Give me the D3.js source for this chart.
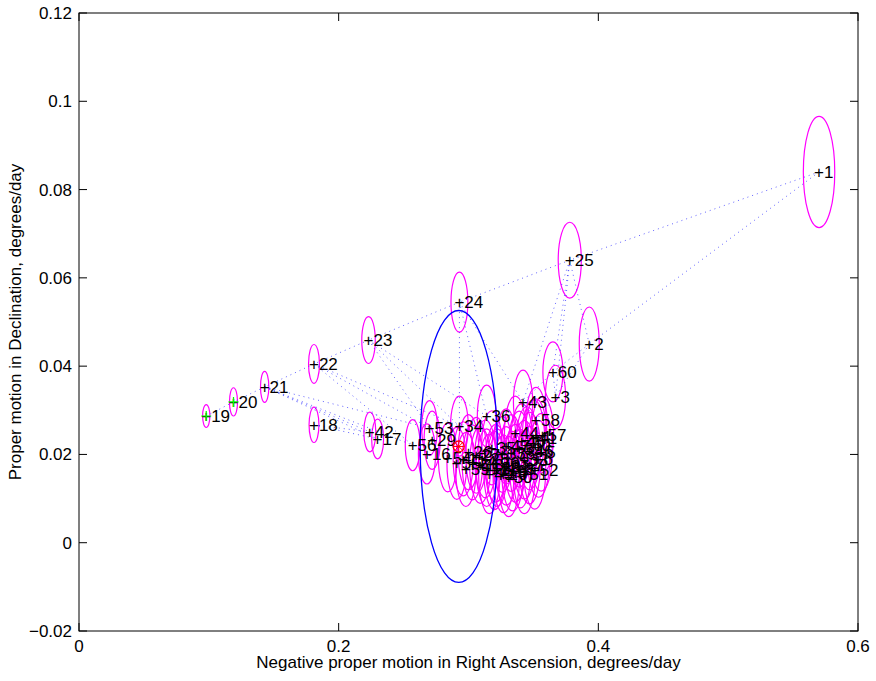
<!DOCTYPE html>
<html>
<head>
<meta charset="utf-8">
<script src="https://cdn.jsdelivr.net/npm/d3@7"></script>
<style>
  html, body { margin: 0; padding: 0; background: #fff; }
  text { font-family: "Liberation Sans", Arial, Helvetica, sans-serif; }
</style>
</head>
<body>
<div id="chart"></div>
<script>
// Observation ids, proper motions and error-ellipse half axes (degrees/day)
const ids = [1, 2, 3, 4, 5, 6, 7, 8, 9, 10, 11, 12, 13, 14, 15, 16, 17, 18, 19, 20,
  21, 22, 23, 24, 25, 26, 27, 28, 29, 30, 31, 32, 33, 34, 35, 36, 37, 38, 39, 40,
  41, 42, 43, 44, 45, 46, 47, 48, 49, 50, 51, 52, 53, 54, 55, 56, 57, 58, 59, 60];
const raMotion = [0.570, 0.393, 0.367, 0.352, 0.356, 0.354, 0.347, 0.340, 0.334, 0.327,
  0.320, 0.314, 0.309, 0.303, 0.296, 0.268, 0.230, 0.181, 0.098, 0.119,
  0.143, 0.181, 0.223, 0.293, 0.378, 0.300, 0.306, 0.313, 0.272, 0.321,
  0.329, 0.336, 0.343, 0.293, 0.318, 0.314, 0.326, 0.333, 0.339, 0.345,
  0.350, 0.224, 0.342, 0.336, 0.341, 0.347, 0.329, 0.322, 0.316, 0.331,
  0.343, 0.351, 0.270, 0.284, 0.291, 0.257, 0.357, 0.352, 0.298, 0.365];
const decMotion = [0.0840, 0.0450, 0.0330, 0.0240, 0.0205, 0.0190, 0.0176, 0.0168, 0.0162, 0.0156,
  0.0164, 0.0170, 0.0176, 0.0182, 0.0190, 0.0201, 0.0235, 0.0267, 0.0287, 0.0319,
  0.0353, 0.0405, 0.0459, 0.0545, 0.0640, 0.0205, 0.0198, 0.0190, 0.0232, 0.0180,
  0.0174, 0.0180, 0.0188, 0.0264, 0.0215, 0.0287, 0.0200, 0.0203, 0.0212, 0.0222,
  0.0238, 0.0251, 0.0319, 0.0248, 0.0230, 0.0208, 0.0218, 0.0170, 0.0156, 0.0150,
  0.0156, 0.0165, 0.0260, 0.0193, 0.0180, 0.0221, 0.0245, 0.0278, 0.0166, 0.0387];
const errRa = [0.0121, 0.0077, 0.0078, 0.0084, 0.0086, 0.0085, 0.0083, 0.0082, 0.0084, 0.0081,
  0.0082, 0.0080, 0.0081, 0.0079, 0.0078, 0.0066, 0.0046, 0.0038, 0.0028, 0.0031,
  0.0032, 0.0042, 0.0052, 0.0065, 0.0089, 0.0080, 0.0081, 0.0082, 0.0062, 0.0083,
  0.0084, 0.0082, 0.0085, 0.0068, 0.0080, 0.0072, 0.0082, 0.0083, 0.0084, 0.0085,
  0.0086, 0.0046, 0.0074, 0.0083, 0.0084, 0.0085, 0.0081, 0.0080, 0.0082, 0.0083,
  0.0084, 0.0085, 0.0060, 0.0072, 0.0076, 0.0057, 0.0086, 0.0078, 0.0078, 0.0077];
const errDec = [0.0126, 0.0084, 0.0072, 0.0086, 0.0088, 0.0087, 0.0088, 0.0089, 0.0090, 0.0088,
  0.0089, 0.0088, 0.0087, 0.0085, 0.0084, 0.0068, 0.0045, 0.0040, 0.0026, 0.0032,
  0.0035, 0.0044, 0.0053, 0.0068, 0.0086, 0.0085, 0.0086, 0.0088, 0.0066, 0.0088,
  0.0089, 0.0088, 0.0089, 0.0068, 0.0084, 0.0070, 0.0086, 0.0087, 0.0086, 0.0086,
  0.0086, 0.0045, 0.0072, 0.0084, 0.0085, 0.0088, 0.0085, 0.0088, 0.0090, 0.0091,
  0.0090, 0.0089, 0.0062, 0.0078, 0.0082, 0.0058, 0.0086, 0.0074, 0.0084, 0.0068];

// Dotted connections between observations (pairs of ids)
const links = [[1, 25], [1, 2], [25, 24], [25, 2], [25, 43], [25, 60], [25, 3],
  [2, 60], [2, 3], [24, 23], [24, 36], [24, 43], [24, 34],
  [23, 22], [23, 34], [23, 36], [23, 53], [22, 21], [22, 53], [22, 34], [22, 56],
  [21, 20], [20, 19], [21, 42], [21, 17], [21, 56], [21, 53], [18, 42], [18, 17],
  [60, 3], [60, 43], [43, 58], [36, 34], [3, 58]];

// Mean motion and its spread (blue ellipse), green highlighted ids
const meanMotion = [0.2925, 0.0218];
const meanSpread = [0.0297, 0.0308];
const highlighted = [19, 20];

const xTicks = [0, 0.2, 0.4, 0.6];
const xTickLabels = ['0', '0.2', '0.4', '0.6'];
const yTicks = [-0.02, 0, 0.02, 0.04, 0.06, 0.08, 0.1, 0.12];
const yTickLabels = ['\u22120.02', '0', '0.02', '0.04', '0.06', '0.08', '0.1', '0.12'];

(function() {
    const container = document.getElementById('chart');
    const width = 876, height = 681;
    const margin = { top: 13, right: 18, bottom: 50, left: 79 };
    const innerW = width - margin.left - margin.right;
    const innerH = height - margin.top - margin.bottom;
    const fs = '17px';

    const svg = d3.select(container).append('svg')
        .attr('width', width)
        .attr('height', height);

    const g = svg.append('g')
        .attr('transform', `translate(${margin.left},${margin.top})`);

    const x = d3.scaleLinear().domain([0, 0.6]).range([0, innerW]);
    const y = d3.scaleLinear().domain([-0.02, 0.12]).range([innerH, 0]);

    const points = ids.map((id, i) => ({
        id: id, ra: raMotion[i], dec: decMotion[i], eRa: errRa[i], eDec: errDec[i]
    }));
    const byId = new Map(points.map(p => [p.id, p]));

    const plot = g.append('g');

    // Error ellipses
    plot.selectAll('.err')
        .data(points)
        .enter()
        .append('ellipse')
        .attr('cx', d => x(d.ra))
        .attr('cy', d => y(d.dec))
        .attr('rx', d => x(d.eRa) - x(0))
        .attr('ry', d => y(0) - y(d.eDec))
        .attr('fill', 'none')
        .attr('stroke', '#ff00ff')
        .attr('stroke-width', 1.2);

    // Dotted links
    plot.selectAll('.link')
        .data(links)
        .enter()
        .append('line')
        .attr('x1', d => x(byId.get(d[0]).ra))
        .attr('y1', d => y(byId.get(d[0]).dec))
        .attr('x2', d => x(byId.get(d[1]).ra))
        .attr('y2', d => y(byId.get(d[1]).dec))
        .attr('stroke', '#3030ff')
        .attr('stroke-width', 1)
        .attr('stroke-dasharray', '1,4')
        .attr('opacity', 0.75);

    // Spread ellipse
    plot.append('ellipse')
        .attr('cx', x(meanMotion[0]))
        .attr('cy', y(meanMotion[1]))
        .attr('rx', x(meanSpread[0]) - x(0))
        .attr('ry', y(0) - y(meanSpread[1]))
        .attr('fill', 'none')
        .attr('stroke', '#0000ff')
        .attr('stroke-width', 1.3);

    // Labels "+N"
    plot.selectAll('.lbl')
        .data(points)
        .enter()
        .append('text')
        .attr('x', d => x(d.ra) - 5)
        .attr('y', d => y(d.dec) + 6)
        .attr('font-size', fs)
        .attr('fill', '#000')
        .text(d => '+' + d.id);

    // Green markers
    highlighted.forEach(function(id) {
        const p = byId.get(id);
        const cx = x(p.ra), cy = y(p.dec);
        plot.append('path')
            .attr('d', `M${cx - 5},${cy}H${cx + 5}M${cx},${cy - 5}V${cy + 5}`)
            .attr('stroke', '#00ff00')
            .attr('stroke-width', 1.2);
    });

    // Mean marker
    const mx = x(meanMotion[0]), my = y(meanMotion[1]);
    plot.append('circle')
        .attr('cx', mx).attr('cy', my).attr('r', 5.5)
        .attr('fill', 'none').attr('stroke', '#ff0000').attr('stroke-width', 1.3);
    plot.append('path')
        .attr('d', `M${mx - 5},${my}H${mx + 5}M${mx},${my - 5}V${my + 5}M${mx - 3.5},${my - 3.5}L${mx + 3.5},${my + 3.5}M${mx - 3.5},${my + 3.5}L${mx + 3.5},${my - 3.5}`)
        .attr('stroke', '#ff0000').attr('stroke-width', 1);

    // Box and ticks (ticks inside on all sides)
    const axes = g.append('g');
    axes.append('rect')
        .attr('x', 0).attr('y', 0)
        .attr('width', innerW).attr('height', innerH)
        .attr('fill', 'none').attr('stroke', '#000').attr('stroke-width', 1);

    const tickLen = 8;
    xTicks.forEach(function(t, i) {
        const px = x(t);
        axes.append('line').attr('x1', px).attr('x2', px).attr('y1', innerH).attr('y2', innerH - tickLen).attr('stroke', '#000');
        axes.append('line').attr('x1', px).attr('x2', px).attr('y1', 0).attr('y2', tickLen).attr('stroke', '#000');
        axes.append('text')
            .attr('x', px).attr('y', innerH + 21)
            .attr('text-anchor', 'middle')
            .attr('font-size', fs)
            .text(xTickLabels[i]);
    });
    yTicks.forEach(function(t, i) {
        const py = y(t);
        axes.append('line').attr('x1', 0).attr('x2', tickLen).attr('y1', py).attr('y2', py).attr('stroke', '#000');
        axes.append('line').attr('x1', innerW).attr('x2', innerW - tickLen).attr('y1', py).attr('y2', py).attr('stroke', '#000');
        axes.append('text')
            .attr('x', -7).attr('y', py + 6)
            .attr('text-anchor', 'end')
            .attr('font-size', fs)
            .text(yTickLabels[i]);
    });

    // Axis titles
    svg.append('text')
        .attr('x', margin.left + innerW / 2)
        .attr('y', 668)
        .attr('text-anchor', 'middle')
        .attr('font-size', fs)
        .text('Negative proper motion in Right Ascension, degrees/day');

    svg.append('text')
        .attr('transform', `translate(21,${margin.top + innerH / 2}) rotate(-90)`)
        .attr('text-anchor', 'middle')
        .attr('font-size', fs)
        .text('Proper motion in Declination, degrees/day');
})();
</script>
</body>
</html>
